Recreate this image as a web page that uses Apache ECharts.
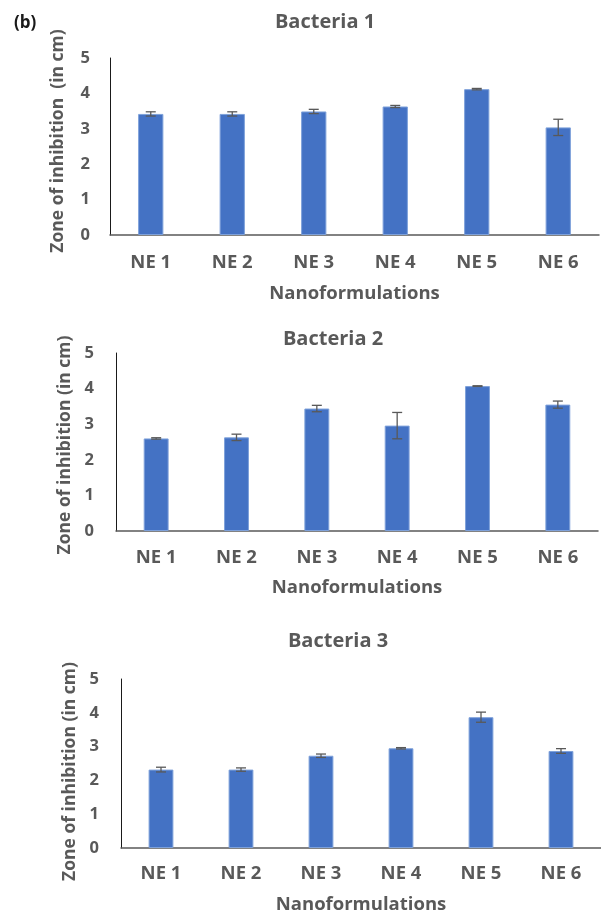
<!DOCTYPE html>
<html>
<head>
<meta charset="utf-8">
<script src="https://cdn.jsdelivr.net/npm/echarts@6/dist/echarts.min.js"></script>
<style>
  html, body { margin: 0; padding: 0; background: #fff; }
  #chart { width: 601px; height: 915px; }
</style>
</head>
<body>
<div id="chart"></div>
<script>
// Formulation labels on each x axis
const categories = ['NE 1', 'NE 2', 'NE 3', 'NE 4', 'NE 5', 'NE 6'];

// Zone of inhibition means (cm) and their error margins, per bacterium
const bacteria1Values = [3.42, 3.42, 3.49, 3.63, 4.12, 3.04];
const bacteria1Errors = [0.06, 0.06, 0.06, 0.03, 0.02, 0.23];
const bacteria2Values = [2.60, 2.63, 3.44, 2.96, 4.07, 3.55];
const bacteria2Errors = [0.02, 0.09, 0.09, 0.37, 0.01, 0.10];
const bacteria3Values = [2.32, 2.32, 2.73, 2.95, 3.87, 2.87];
const bacteria3Errors = [0.07, 0.05, 0.05, 0.02, 0.15, 0.07];

const panelTitles = ['Bacteria 1', 'Bacteria 2', 'Bacteria 3'];
const yTicks = [0, 1, 2, 3, 4, 5];
const yAxisTitles = ['Zone of inhibition  (in cm)', 'Zone of inhibition (in cm)', 'Zone of inhibition (in cm)'];
const xAxisTitle = 'Nanoformulations';

const panels = [
  { values: bacteria1Values, errors: bacteria1Errors },
  { values: bacteria2Values, errors: bacteria2Errors },
  { values: bacteria3Values, errors: bacteria3Errors }
];

const FONT = '"Open Sans", sans-serif';
const TEXT = '#595959';

const layout = [
  { left: 110, top: 58, width: 489, height: 177, titleX: 320, titleTop: 7, nameGap: 43, namePad: [0, 0, 0, 11], labelMargin: 20, xLabelMargin: 18, xNameGap: 49 },
  { left: 116, top: 353, width: 482, height: 178, titleX: 328, titleTop: 324, nameGap: 42, namePad: [0, 6, 0, 0], labelMargin: 22, xLabelMargin: 17, xNameGap: 47 },
  { left: 121, top: 679, width: 488, height: 170, titleX: 333, titleTop: 626, nameGap: 42, namePad: [0, 16, 0, 0], labelMargin: 22, xLabelMargin: 16, xNameGap: 47 }
];

const grids = [], xAxes = [], yAxes = [], series = [], titles = [];

titles.push({
  text: '(b)', left: 9, top: 10,
  textStyle: { fontFamily: FONT, fontWeight: 'bold', fontSize: 17, color: '#1a1a1a' }
});

panels.forEach((p, i) => {
  const L = layout[i];
  titles.push({
    text: panelTitles[i], left: L.titleX, top: L.titleTop, textAlign: 'center',
    textStyle: { fontFamily: FONT, fontWeight: 'bold', fontSize: 20, color: TEXT }
  });
  grids.push({ left: L.left, top: L.top, width: L.width, height: L.height, containLabel: false });
  xAxes.push({
    type: 'category', gridIndex: i, data: categories,
    axisLine: { lineStyle: { color: '#595959', width: 1.5 } },
    axisTick: { show: false },
    axisLabel: { margin: L.xLabelMargin, fontFamily: FONT, fontWeight: 'bold', fontSize: 18.5, color: TEXT },
    name: xAxisTitle, nameLocation: 'middle', nameGap: L.xNameGap,
    nameTextStyle: { fontFamily: FONT, fontWeight: 'bold', fontSize: 18.5, color: TEXT }
  });
  yAxes.push({
    type: 'value', gridIndex: i, min: yTicks[0], max: yTicks[yTicks.length - 1], interval: 1,
    axisLine: { show: true, lineStyle: { color: '#1a1a1a', width: 1 } },
    axisTick: { show: false },
    splitLine: { show: false },
    axisLabel: { margin: L.labelMargin, fontFamily: FONT, fontWeight: 'bold', fontSize: 16.5, color: TEXT },
    name: yAxisTitles[i], nameLocation: 'middle', nameGap: L.nameGap, nameRotate: 90,
    nameTextStyle: { fontFamily: FONT, fontWeight: 'bold', fontSize: 17.5, color: TEXT, padding: L.namePad }
  });
  series.push({
    type: 'bar', xAxisIndex: i, yAxisIndex: i, data: p.values,
    barWidth: '31%',
    itemStyle: { color: '#4472C4', borderColor: '#7EA1DA', borderWidth: 1 },
    z: 2
  });
  series.push({
    type: 'custom', xAxisIndex: i, yAxisIndex: i,
    data: p.values.map((v, k) => [k, v, p.errors[k]]),
    z: 3,
    renderItem: function (params, api) {
      const x = api.value(0), v = api.value(1), e = api.value(2);
      const hi = api.coord([x, v + e]);
      const lo = api.coord([x, v - e]);
      const cap = 5;
      const style = { stroke: '#595959', lineWidth: 1.3 };
      return {
        type: 'group',
        children: [
          { type: 'line', shape: { x1: hi[0], y1: hi[1], x2: lo[0], y2: lo[1] }, style },
          { type: 'line', shape: { x1: hi[0] - cap, y1: hi[1], x2: hi[0] + cap, y2: hi[1] }, style },
          { type: 'line', shape: { x1: lo[0] - cap, y1: lo[1], x2: lo[0] + cap, y2: lo[1] }, style }
        ]
      };
    }
  });
});

const chart = echarts.init(document.getElementById('chart'), null, { renderer: 'canvas' });
chart.setOption({
  animation: false,
  backgroundColor: '#ffffff',
  title: titles,
  grid: grids,
  xAxis: xAxes,
  yAxis: yAxes,
  series: series
});
</script>
</body>
</html>
